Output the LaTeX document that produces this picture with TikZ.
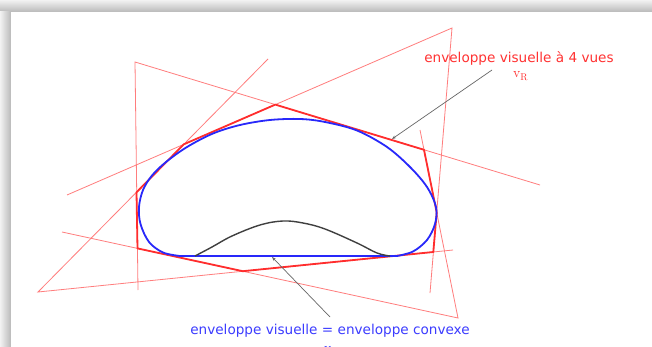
\documentclass[tikz,border=0pt]{standalone}
\usepackage{fontspec}
\newfontfamily\dv{DejaVu Sans}
\usetikzlibrary{arrows.meta}
\definecolor{thinred}{RGB}{255,125,125}
\definecolor{envred}{RGB}{255,45,45}
\definecolor{hullblue}{RGB}{40,40,250}
\definecolor{txtred}{RGB}{255,50,50}
\definecolor{txtblue}{RGB}{60,60,255}
\begin{document}
\begin{tikzpicture}[x=1pt,y=-1pt,
  cone/.style={draw=thinred,line width=0.8pt},
  envelope/.style={draw=envred,line width=1.8pt,line join=round},
  hull/.style={draw=hullblue,line width=1.8pt,line join=round},
  obj/.style={draw=black!75,line width=1.4pt},
  pointer/.style={draw=black!60,line width=0.7pt,-{Stealth[length=4pt,width=3pt]}},
  lbl/.style={font=\dv\fontsize{13.6}{15}\selectfont,inner sep=0pt,anchor=base}]
\useasboundingbox (0,0) rectangle (652,347);
\clip (0,0) rectangle (652,347);
% frame with shadow
\shade[top color=gray!10,bottom color=gray!55] (0,0) rectangle (652,12);
\shade[left color=gray!10,right color=gray!55] (0,12) rectangle (11,347);
\fill[white] (11,12) rectangle (652,347);
% cone apexes and ends
\coordinate (a1) at (135,62);   \coordinate (a1l) at (138,290); \coordinate (a1r) at (540,185);
\coordinate (a2) at (452,28);   \coordinate (a2l) at (67,195);  \coordinate (a2r) at (430,293);
\coordinate (a3) at (38,292);   \coordinate (a3l) at (268,59);  \coordinate (a3r) at (453,250);
\coordinate (a4) at (458,318);  \coordinate (a4l) at (62,232);  \coordinate (a4r) at (420,130);
\draw[cone] (a1l) -- (a1) -- (a1r);
\draw[cone] (a2l) -- (a2) -- (a2r);
\draw[cone] (a3l) -- (a3) -- (a3r);
\draw[cone] (a4l) -- (a4) -- (a4r);
% visual hull polygon
\coordinate (e1) at (183.8,144.3);
\coordinate (e2) at (275.3,104.6);
\coordinate (e3) at (424,149.8);
\coordinate (e4) at (436.7,212.5);
\coordinate (e5) at (433.3,252);
\coordinate (e6) at (242.8,271.2);
\coordinate (e7) at (137.5,248.4);
\coordinate (e8) at (136.5,192.3);
\draw[envelope] (e1) -- (e2) -- (e3) -- (e4) -- (e5) -- (e6) -- (e7) -- (e8) -- cycle;
% convex hull (blue)
\draw[hull] plot[smooth,tension=0.55] coordinates {(180,256) (163,252.5) (149,242) (140.5,224) (139,207) (143,190) (152,175.5) (166,162) (187,147) (213,133.5) (240,125) (270,120) (300,119) (325,122) (357,130.5) (387,147) (410,167) (427,187) (436,207) (435,224) (427,240) (413,251.5) (397,256)} -- cycle;
% object concave part
\draw[obj] plot[smooth,tension=0.6] coordinates {(195,256) (212,247) (232,236) (260,225) (283,221) (303,223) (325,229) (357,243) (377,253) (390,256)};
% labels
\node[lbl,text=txtred] (t1) at (519,63) {enveloppe visuelle à 4 vues};
\node[inner sep=0pt,anchor=base west,text=txtred,font=\fontsize{14}{16}\selectfont] (v1) at (513,78) {v$_{\mathrm{R}}$};
\node[lbl,text=txtblue] (t2) at (330,334) {enveloppe visuelle = enveloppe convexe};
\node[inner sep=0pt,anchor=base west,text=txtblue,font=\fontsize{14}{16}\selectfont] (v2) at (324,352) {v};
% pointers
\coordinate (p1s) at (492,70); \coordinate (p1e) at (392,139);
\coordinate (p2s) at (330,317); \coordinate (p2e) at (272,257);
\draw[pointer] (p1s) -- (p1e);
\draw[pointer] (p2s) -- (p2e);
\end{tikzpicture}
\end{document}
